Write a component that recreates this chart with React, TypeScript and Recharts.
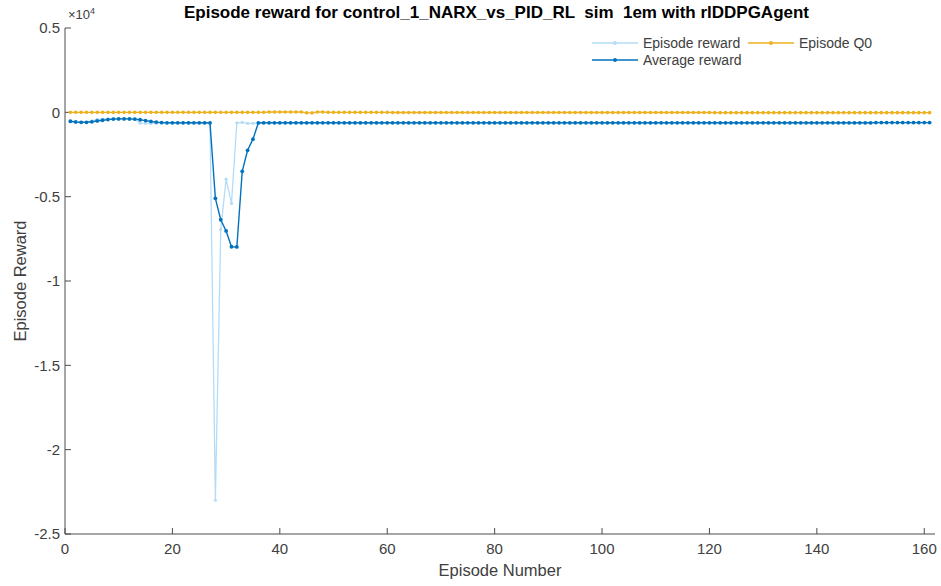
import { LineChart, Line, XAxis, YAxis } from 'recharts'

// episode numbers 1..161
const episodes: number[] = Array.from({ length: 161 }, (_, i) => i + 1)

const episodeReward: number[] = [
  -530, -600, -600, -590, -500, -420, -400, -380, -380, -380, -390, -400, -420, -640, -660, -660, -650, -630, -630, -630,
  -630, -630, -630, -630, -630, -630, -630, -23000, -6940, -3960, -5400, -630, -600, -660, -650, -620, -620, -620, -620, -620,
  -620, -620, -620, -620, -620, -620, -620, -620, -620, -620, -620, -620, -620, -620, -620, -620, -620, -620, -620, -620,
  -620, -620, -620, -620, -620, -620, -620, -620, -620, -620, -620, -620, -620, -620, -620, -620, -620, -620, -620, -620,
  -620, -620, -620, -620, -620, -620, -620, -620, -620, -620, -620, -620, -620, -620, -620, -620, -620, -620, -620, -620,
  -620, -620, -620, -620, -620, -620, -620, -620, -620, -620, -620, -620, -620, -620, -620, -620, -620, -620, -620, -620,
  -620, -620, -620, -620, -620, -620, -620, -620, -620, -620, -620, -620, -620, -620, -620, -620, -620, -620, -620, -620,
  -620, -620, -620, -620, -620, -620, -620, -620, -620, -620, -610, -610, -610, -610, -610, -610, -610, -610, -610, -610,
  -610,
]

const averageReward: number[] = [
  -530, -570, -590, -590, -560, -510, -470, -430, -400, -390, -390, -390, -400, -440, -490, -540, -580, -610, -620, -620,
  -620, -620, -620, -620, -620, -620, -630, -5100, -6370, -7030, -7970, -7980, -3500, -2250, -1590, -630, -620, -620, -620, -620,
  -620, -620, -620, -620, -620, -620, -620, -620, -620, -620, -620, -620, -620, -620, -620, -620, -620, -620, -620, -620,
  -620, -620, -620, -620, -620, -620, -620, -620, -620, -620, -620, -620, -620, -620, -620, -620, -620, -620, -620, -620,
  -620, -620, -620, -620, -620, -620, -620, -620, -620, -620, -620, -620, -620, -620, -620, -620, -620, -620, -620, -620,
  -620, -620, -620, -620, -620, -620, -620, -620, -620, -620, -620, -620, -620, -620, -620, -620, -620, -620, -620, -620,
  -620, -620, -620, -620, -620, -620, -620, -620, -620, -620, -620, -620, -620, -620, -620, -620, -620, -620, -620, -620,
  -620, -620, -620, -620, -620, -620, -620, -620, -620, -620, -610, -610, -610, -610, -610, -610, -610, -610, -610, -610,
  -610,
]

const episodeQ0: number[] = [
  0, 0, 0, 0, 0, 0, 0, 0, 0, 0, 0, 0, 0, 0, 0, 0, 0, 0, 0, 0,
  0, 0, 0, 0, 0, 0, 0, 0, 0, 0, 0, 0, 0, 0, 0, 0, 0, 20, 20, 20,
  20, 20, 20, 20, -30, -30, 20, 20, 0, 0, 0, 0, 0, 0, 0, 0, 0, 0, 0, 0,
  -10, -10, -10, -10, -10, -10, -10, -10, -10, -10, -10, -10, -10, -10, -10, -10, -10, -10, -10, -10,
  -10, -10, -10, -10, -10, -10, -10, -10, -10, -10, -10, -10, -10, -10, -10, -10, -10, -10, -10, -10,
  -10, -10, -10, -10, -10, -10, -10, -10, -10, -10, -10, -10, -10, -10, -10, -10, -10, -10, -10, -10,
  -20, -20, -20, -20, -20, -20, -20, -20, -20, -20, -20, -20, -20, -20, -20, -20, -20, -20, -20, -20,
  -20, -20, -20, -20, -20, -20, -20, -20, -20, -20, -20, -20, -20, -20, -20, -20, -20, -20, -20, -20,
  -20,
]

const xTicks = [0, 20, 40, 60, 80, 100, 120, 140, 160]
const yTicks = [-25000, -20000, -15000, -10000, -5000, 0, 5000]

const LIGHT = '#b5dcf7'
const BLUE = '#0072bd'
const GOLD = '#edb120'
const AXIS = '#4d4d4d'
const TEXT = '#404040'
const FONT = '"Liberation Sans", Arial, Helvetica, sans-serif'

const data = episodes.map((ep, i) => ({
  episode: ep,
  reward: episodeReward[i],
  avg: averageReward[i],
  q0: episodeQ0[i],
}))

const legendItems = [
  { label: 'Episode reward', color: LIGHT, left: 592, top: 35 },
  { label: 'Episode Q0', color: GOLD, left: 748, top: 35 },
  { label: 'Average reward', color: BLUE, left: 592, top: 52 },
]

export default function App() {
  return (
    <div style={{ position: 'absolute', left: 0, top: 0, width: 941, height: 586, background: '#fff', fontFamily: FONT }}>
      <LineChart width={941} height={586} data={data} margin={{ top: 28, right: 6, left: 0, bottom: 0 }}>
        <XAxis
          dataKey="episode"
          type="number"
          domain={[0, 162]}
          ticks={xTicks}
          height={52}
          allowDataOverflow
          axisLine={{ stroke: AXIS }}
          tickLine={{ stroke: AXIS }}
          tickSize={-6}
          tickMargin={15}
          tick={{ fill: TEXT, fontSize: 15, fontFamily: FONT }}
        />
        <YAxis
          type="number"
          domain={[-25000, 5000]}
          ticks={yTicks}
          width={65}
          allowDataOverflow
          axisLine={{ stroke: AXIS }}
          tickLine={{ stroke: AXIS }}
          tickSize={-6}
          tickMargin={11}
          tickFormatter={(v: number) => String(v / 10000)}
          tick={{ fill: TEXT, fontSize: 15, fontFamily: FONT }}
        />
        <Line
          dataKey="reward"
          stroke={LIGHT}
          strokeWidth={1.3}
          dot={{ r: 1.6, fill: LIGHT, stroke: LIGHT, strokeWidth: 0 }}
          isAnimationActive={false}
        />
        <Line
          dataKey="avg"
          stroke={BLUE}
          strokeWidth={1.4}
          dot={{ r: 1.9, fill: BLUE, stroke: BLUE, strokeWidth: 0 }}
          isAnimationActive={false}
        />
        <Line
          dataKey="q0"
          stroke={GOLD}
          strokeWidth={1.3}
          dot={{ r: 1.8, fill: GOLD, stroke: GOLD, strokeWidth: 0 }}
          isAnimationActive={false}
        />
      </LineChart>

      <div style={{ position: 'absolute', left: 0, width: 993, top: 3, textAlign: 'center', fontWeight: 'bold', fontSize: 17, color: '#000', whiteSpace: 'pre' }}>
        {'Episode reward for control_1_NARX_vs_PID_RL  sim  1em with rlDDPGAgent'}
      </div>
      <div style={{ position: 'absolute', left: 68, top: 6, fontSize: 13, color: TEXT }}>
        ×10<sup style={{ fontSize: 9 }}>4</sup>
      </div>
      <div style={{ position: 'absolute', left: 65, width: 870, top: 561, textAlign: 'center', fontSize: 16.5, color: TEXT }}>
        Episode Number
      </div>
      <div style={{ position: 'absolute', left: 20, top: 281, width: 0, height: 0 }}>
        <div style={{ position: 'absolute', transform: 'translate(-50%, -50%) rotate(-90deg)', whiteSpace: 'nowrap', fontSize: 16.5, color: TEXT }}>
          Episode Reward
        </div>
      </div>

      {legendItems.map((it) => (
        <div key={it.label} style={{ position: 'absolute', left: it.left, top: it.top, height: 16, display: 'flex', alignItems: 'center' }}>
          <svg width={46} height={16}>
            <line x1={0} y1={8} x2={46} y2={8} stroke={it.color} strokeWidth={1.4} />
            <circle cx={23} cy={8} r={1.9} fill={it.color} />
          </svg>
          <span style={{ marginLeft: 5, fontSize: 14, color: TEXT }}>{it.label}</span>
        </div>
      ))}
    </div>
  )
}
